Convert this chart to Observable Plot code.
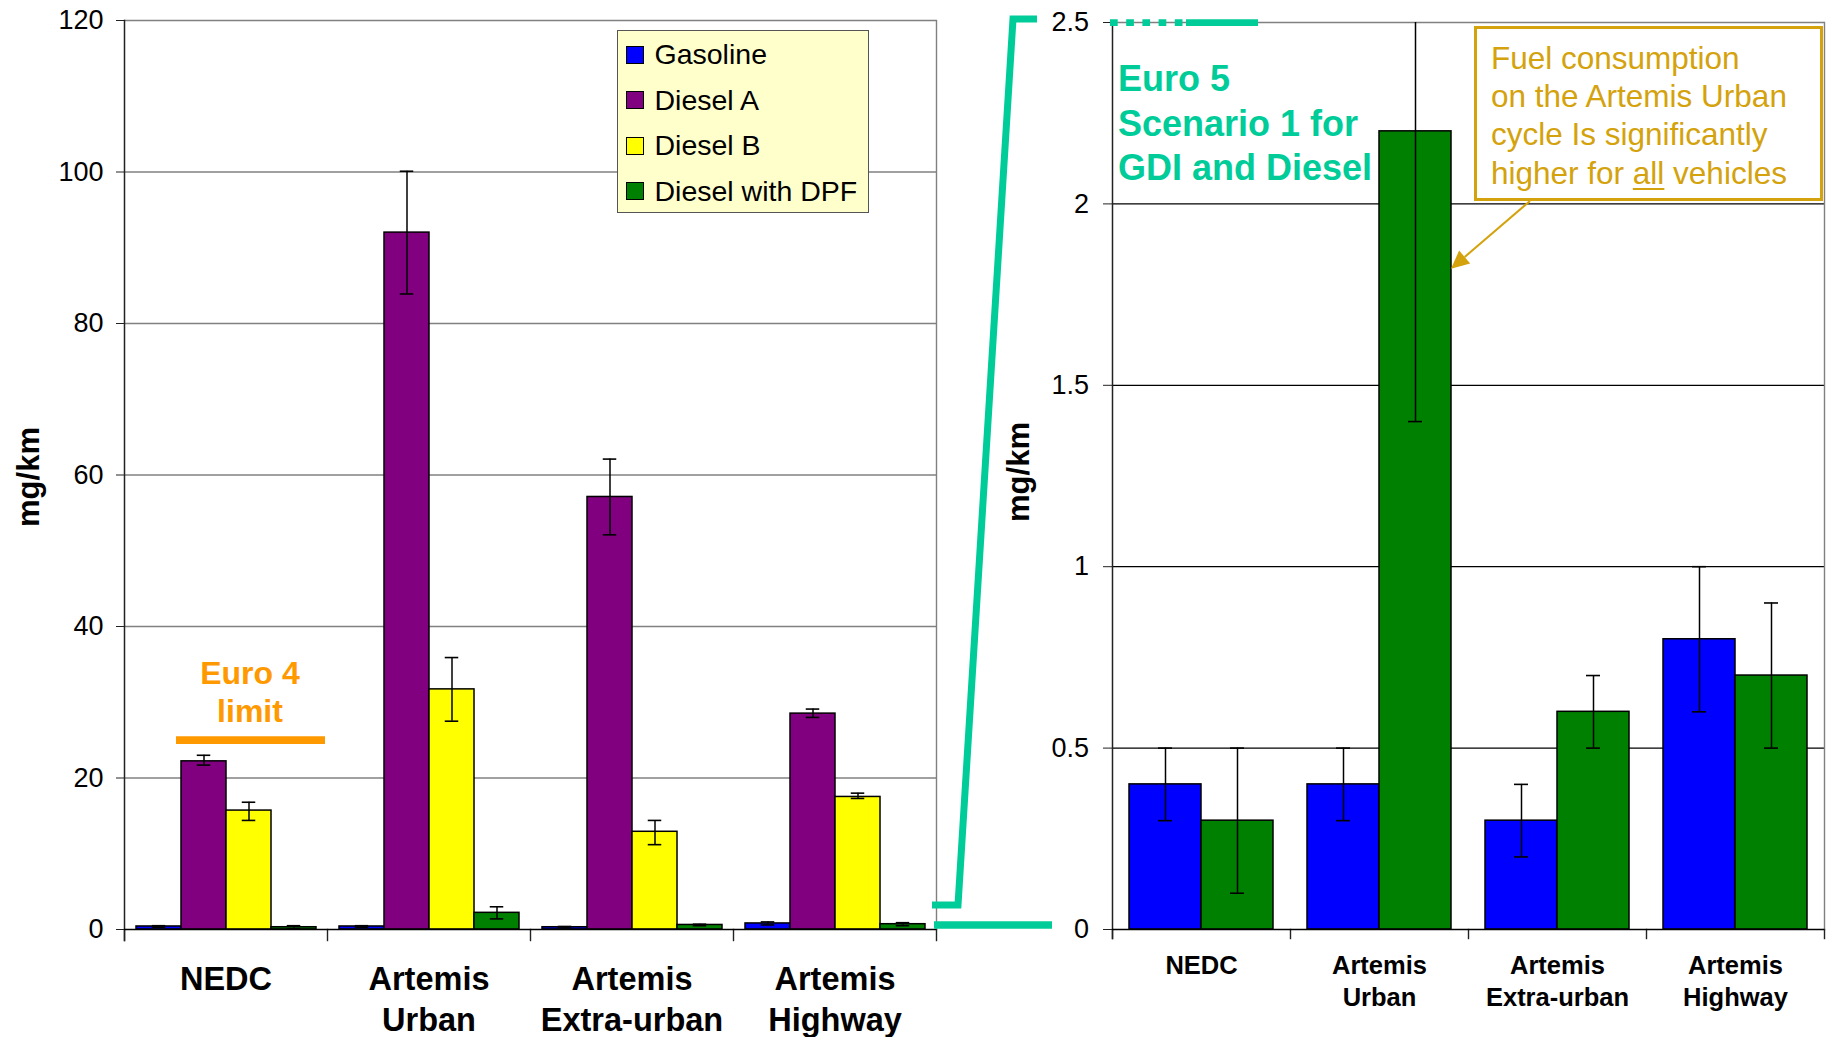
<!DOCTYPE html>
<html>
<head>
<meta charset="utf-8">
<script src="https://cdn.jsdelivr.net/npm/d3@7"></script>
<script src="https://cdn.jsdelivr.net/npm/@observablehq/plot@0.6"></script>
<style>
  html, body { margin: 0; padding: 0; background: #fff; }
  #page { position: relative; width: 1831px; height: 1037px; overflow: hidden;
          font-family: "Liberation Sans", Arial, Helvetica, sans-serif; }
  .legend { position: absolute; box-sizing: border-box; background: #FFFFCC; border: 1.5px solid #555; }
  .legend .row { position: absolute; left: 7.5px; height: 18px; display: flex; align-items: center;
                 font-size: 28.5px; color: #000; white-space: nowrap; }
  .legend .sw { width: 18px; height: 18px; box-sizing: border-box; border: 1.5px solid #000; margin-right: 11px; flex: none; }
  .callout { position: absolute; box-sizing: border-box; background: #fff; border: 3px solid #D4A20C;
             color: #D4A20C; font-size: 31.5px; line-height: 38.2px; padding: 10px 0 0 14px; white-space: nowrap; }
  .callout u { text-decoration-thickness: 2px; text-underline-offset: 4px; }
</style>
</head>
<body>
<div id="page"></div>
<script>
// ---------- data ----------
const cycles = ["NEDC", "Artemis\nUrban", "Artemis\nExtra-urban", "Artemis\nHighway"];
const vehicles = ["Gasoline", "Diesel A", "Diesel B", "Diesel with DPF"];
const vehicleColors = ["#0000FF", "#800080", "#FFFF00", "#008000"];
const zoomVehicles = ["Gasoline", "Diesel with DPF"];

// PM emissions, mg/km, per cycle (NEDC, Urban, Extra-urban, Highway)
const pmGasoline     = [0.4, 0.4, 0.3, 0.8];
const pmGasolineLow  = [0.3, 0.3, 0.2, 0.6];
const pmGasolineHigh = [0.5, 0.5, 0.4, 1.0];

const pmDieselA      = [22.2, 92.0, 57.1, 28.5];
const pmDieselALow   = [21.7, 83.9, 52.1, 28.0];
const pmDieselAHigh  = [23.0, 100.1, 62.1, 29.1];

const pmDieselB      = [15.7, 31.7, 12.9, 17.5];
const pmDieselBLow   = [14.4, 27.5, 11.2, 17.3];
const pmDieselBHigh  = [16.8, 35.9, 14.4, 18.0];

const pmDPF          = [0.3, 2.2, 0.6, 0.7];
const pmDPFLow       = [0.1, 1.4, 0.5, 0.5];
const pmDPFHigh      = [0.5, 3.0, 0.7, 0.9];

const leftTicks = [0, 20, 40, 60, 80, 100, 120];
const rightTicks = [0, 0.5, 1, 1.5, 2, 2.5];
const euro4Limit = 25;          // mg/km
const arrowValue = 1.82;        // mg/km, where the callout arrow points
const euro4Text = "Euro 4\nlimit";
const euro5Text = "Euro 5\nScenario 1 for\nGDI and Diesel";
const yLabel = "mg/km";

// ---------- table ----------
const values = [pmGasoline, pmDieselA, pmDieselB, pmDPF];
const lows   = [pmGasolineLow, pmDieselALow, pmDieselBLow, pmDPFLow];
const highs  = [pmGasolineHigh, pmDieselAHigh, pmDieselBHigh, pmDPFHigh];
const table = cycles.flatMap((cycle, i) => vehicles.map((vehicle, j) => ({
  cycle, vehicle, value: values[j][i], lo: lows[j][i], hi: highs[j][i]
})));
const zoomTable = table.filter(d => zoomVehicles.includes(d.vehicle));

const FONT = "'Liberation Sans', Arial, Helvetica, sans-serif";
const page = document.getElementById("page");

function chart(cfg) {
  const fh = cfg.height - cfg.marginTop - cfg.marginBottom;
  const marks = [
    Plot.gridY(cfg.blackGrid, {stroke: "#000", strokeOpacity: 1, strokeWidth: 1.2}),
    Plot.gridY(cfg.grayGrid, {stroke: "#808080", strokeOpacity: 1, strokeWidth: 1.4}),
    Plot.frame({anchor: "right", facetAnchor: "right", stroke: "#808080", strokeWidth: 1.4}),
    Plot.frame({anchor: "left", insetTop: fh, insetBottom: -cfg.boundaryTick, stroke: "#222", strokeWidth: 1.4}),
    Plot.frame({anchor: "right", facetAnchor: "right", insetTop: fh, insetBottom: -cfg.boundaryTick, stroke: "#222", strokeWidth: 1.4}),
    Plot.frame({anchor: "left", facetAnchor: "left", insetBottom: -cfg.boundaryTick, stroke: "#222", strokeWidth: 1.5}),
    Plot.barY(cfg.data, {fx: "cycle", x: "vehicle", y: "value", fill: "vehicle", stroke: "#000", strokeWidth: 1.5}),
    Plot.ruleX(cfg.data, {fx: "cycle", x: "vehicle", y1: "lo", y2: "hi", stroke: "#000", strokeWidth: 1.5, clip: true}),
    Plot.tickY(cfg.data, {fx: "cycle", x: "vehicle", y: "lo", stroke: "#000", strokeWidth: 1.6, insetLeft: cfg.capInset, insetRight: cfg.capInset, clip: true}),
    Plot.tickY(cfg.data, {fx: "cycle", x: "vehicle", y: "hi", stroke: "#000", strokeWidth: 1.6, insetLeft: cfg.capInset, insetRight: cfg.capInset, clip: true}),
    Plot.ruleY([0], {stroke: "#000", strokeWidth: 1.5}),
    Plot.axisY({facetAnchor: "left", anchor: "left", ticks: cfg.ticks, tickFormat: d => String(d),
                tickSize: cfg.tickSize, tickPadding: cfg.tickPadding,
                fontSize: 27, label: null, stroke: "#222", fill: "#000"}),
    Plot.text(cycles, {fx: d => d, text: d => d, frameAnchor: "bottom", lineAnchor: "top", dy: cfg.catDy,
                       fontSize: cfg.catSize, fontWeight: "bold", lineHeight: cfg.catLineHeight, fill: "#000"}),
    Plot.text([cycles[0]], {fx: d => d, text: () => yLabel, frameAnchor: "left", textAnchor: "middle", lineAnchor: "middle",
                            rotate: -90, dx: cfg.yLabelDx, dy: cfg.yLabelDy,
                            fontSize: 31, fontWeight: "bold", fill: "#000"}),
    ...cfg.extra
  ];
  return Plot.plot({
    width: cfg.width, height: cfg.height,
    marginLeft: cfg.marginLeft, marginRight: cfg.marginRight, marginTop: cfg.marginTop, marginBottom: cfg.marginBottom,
    style: {fontFamily: FONT, fontSize: "27px", color: "#000", background: "none", overflow: "visible"},
    fx: {domain: cycles, padding: 0, axis: null},
    x: {domain: cfg.vehicles, paddingInner: 0, paddingOuter: cfg.padOuter, axis: null},
    y: {domain: cfg.domain, axis: null},
    color: {domain: vehicles, range: vehicleColors},
    marks
  });
}

const L = {width: 945, height: 1037, marginLeft: 124, marginRight: 9, marginTop: 20, marginBottom: 108};
const R = {left: 1000, width: 831, height: 1037, marginLeft: 111, marginRight: 6, marginTop: 22, marginBottom: 108};

const left = chart({
  ...L, data: table, vehicles, domain: [0, 120], ticks: leftTicks,
  blackGrid: [], grayGrid: leftTicks.slice(1),
  boundaryTick: 11, capInset: 15.75, padOuter: 0.231,
  tickSize: 8, tickPadding: 13, catDy: 31, catSize: 32.5, catLineHeight: 1.26, yLabelDx: -95, yLabelDy: 2,
  extra: [
    Plot.ruleY([{cycle: cycles[0], y: euro4Limit}], {fx: "cycle", y: "y", stroke: "#FF9900", strokeWidth: 7.6, insetLeft: 52, insetRight: 2}),
    Plot.text([{cycle: cycles[0], y: euro4Limit}], {fx: "cycle", y: "y", text: () => euro4Text, lineAnchor: "top", dy: -83, dx: 24,
      fontSize: 32, fontWeight: "bold", fill: "#FF9900", lineHeight: 1.18})
  ]
});

const right = chart({
  ...R, data: zoomTable, vehicles: zoomVehicles, domain: [0, 2.5], ticks: rightTicks,
  blackGrid: rightTicks.slice(1, -1), grayGrid: [2.5],
  boundaryTick: 9, capInset: 29, padOuter: 0.234,
  tickSize: 9, tickPadding: 14.5, catDy: 21, catSize: 25.5, catLineHeight: 1.28, yLabelDx: -93.5, yLabelDy: -4,
  extra: [
    Plot.text([cycles[0]], {fx: d => d, text: () => euro5Text, frameAnchor: "top-left", textAnchor: "start", lineAnchor: "top",
      dx: 5.5, dy: 37.5, fontSize: 36, fontWeight: "bold", fill: "#00CC99", lineHeight: 1.23})
  ]
});

left.style.position = "absolute"; left.style.left = "0px"; left.style.top = "0px";
right.style.position = "absolute"; right.style.left = R.left + "px"; right.style.top = "0px";
page.appendChild(left);
page.appendChild(right);

// ---------- legend ----------
const legend = document.createElement("div");
legend.className = "legend";
Object.assign(legend.style, {left: "617px", top: "30px", width: "252px", height: "183px"});
vehicles.forEach((v, i) => {
  const row = document.createElement("div");
  row.className = "row";
  row.style.top = (14.5 + i * 45.6) + "px";
  const sw = document.createElement("span");
  sw.className = "sw";
  sw.style.background = vehicleColors[i];
  row.appendChild(sw);
  row.appendChild(document.createTextNode(v));
  legend.appendChild(row);
});
page.appendChild(legend);

// ---------- callout ----------
const callout = document.createElement("div");
callout.className = "callout";
const cal = {left: 1474, top: 26, width: 349, height: 175};
Object.assign(callout.style, {left: cal.left + "px", top: cal.top + "px", width: cal.width + "px", height: cal.height + "px"});
callout.innerHTML = "Fuel consumption<br>on the Artemis Urban<br>cycle Is significantly<br>higher for <u>all</u> vehicles";
page.appendChild(callout);

// ---------- overlay: zoom connector + arrow ----------
const yR = right.scale("y");
const LFR = L.width - L.marginRight;           // left chart frame right
const RFL = R.left + R.marginLeft;             // right chart frame left
const y0 = yR.apply(0), yTop = yR.apply(2.5);
const teal = "#00CC99", gold = "#D4A20C";

const ov = d3.create("svg").attr("width", 1831).attr("height", 1037)
  .style("position", "absolute").style("left", "0px").style("top", "0px").style("pointer-events", "none");

ov.append("line").attr("x1", LFR - 2).attr("x2", LFR + 116).attr("y1", y0 - 4).attr("y2", y0 - 4)
  .attr("stroke", teal).attr("stroke-width", 7.7);
ov.append("polyline")
  .attr("points", [[LFR - 4, y0 - 24], [LFR + 22, y0 - 24], [RFL - 98, yTop - 3], [RFL - 74, yTop - 3]].map(p => p.join(",")).join(" "))
  .attr("fill", "none").attr("stroke", teal).attr("stroke-width", 7).attr("stroke-linejoin", "miter");
ov.append("line").attr("x1", RFL - 1).attr("x2", RFL + 75).attr("y1", yTop + 0.7).attr("y2", yTop + 0.7)
  .attr("stroke", teal).attr("stroke-width", 6.7).attr("stroke-dasharray", "7.7 8.5");
ov.append("line").attr("x1", RFL + 75).attr("x2", RFL + 147).attr("y1", yTop + 0.7).attr("y2", yTop + 0.7)
  .attr("stroke", teal).attr("stroke-width", 6.7);

page.appendChild(ov.node());

// arrow from callout to the tallest bar of the zoomed chart
const pageBox = page.getBoundingClientRect();
let tallest = null, th = -1;
right.querySelectorAll("rect").forEach(r => {
  const b = r.getBoundingClientRect();
  if (b.height > th) { th = b.height; tallest = b; }
});
const tip = [tallest.right - pageBox.left, yR.apply(arrowValue)];
const start = [cal.left + 56, cal.top + cal.height];
const ang = Math.atan2(tip[1] - start[1], tip[0] - start[0]);
const headLen = 18, headHalf = 8.5;
const base = [tip[0] - headLen * Math.cos(ang), tip[1] - headLen * Math.sin(ang)];
ov.append("line").attr("x1", start[0]).attr("y1", start[1]).attr("x2", base[0]).attr("y2", base[1])
  .attr("stroke", gold).attr("stroke-width", 2);
ov.append("polygon")
  .attr("points", [tip,
    [base[0] + headHalf * Math.sin(ang), base[1] - headHalf * Math.cos(ang)],
    [base[0] - headHalf * Math.sin(ang), base[1] + headHalf * Math.cos(ang)]].map(p => p.join(",")).join(" "))
  .attr("fill", gold);
</script>
</body>
</html>
